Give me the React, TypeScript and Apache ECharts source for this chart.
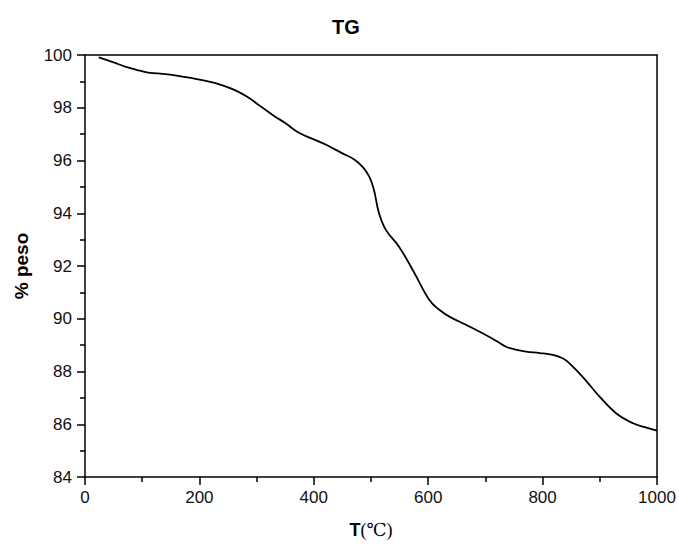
import React, { useEffect, useRef } from "react";
import * as echarts from "echarts";

// Temperature (°C) and remaining mass (%) of the TG curve
const temperature = [
  24, 50, 70, 90, 108, 128, 160, 187, 215, 239, 262, 285, 304, 330, 350, 374, 400,
  425, 450, 470, 485, 497, 505, 514, 526, 549, 573, 602, 620, 637, 665, 695, 720,
  736, 755, 771, 795, 818, 835, 847, 870, 900, 929, 958, 980, 1000,
];
const massPercent = [
  99.91, 99.72, 99.56, 99.44, 99.34, 99.3, 99.22, 99.12, 99.0, 98.86, 98.67, 98.4,
  98.1, 97.7, 97.42, 97.05, 96.8, 96.56, 96.27, 96.05, 95.77, 95.39, 94.9, 94.0,
  93.37, 92.73, 91.85, 90.71, 90.33, 90.08, 89.78, 89.45, 89.15, 88.94, 88.82,
  88.75, 88.7, 88.63, 88.5, 88.31, 87.8, 87.04, 86.41, 86.04, 85.88, 85.76,
];

const xTicks = { min: 0, max: 1000, interval: 200 };
const yTicks = { min: 84, max: 100, interval: 2 };

export default function App() {
  const ref = useRef<HTMLDivElement>(null);

  useEffect(() => {
    if (!ref.current) return;
    const chart = echarts.init(ref.current, null, { renderer: "svg" });
    const labelFont = "'Liberation Sans', Arial, sans-serif";
    const axisLine = { show: true, onZero: false, lineStyle: { color: "#000", width: 1.5 } };
    const majorTick = { show: true, inside: false, length: 8, lineStyle: { color: "#000", width: 1.5 } };
    const minorTick = { show: true, splitNumber: 2, length: 5, lineStyle: { color: "#000", width: 1.5 } };

    chart.setOption({
      animation: false,
      backgroundColor: "#fff",
      title: {
        text: "TG",
        left: 341,
        top: 12,
        textAlign: "center",
        textStyle: { fontFamily: labelFont, fontWeight: "bold", fontSize: 20, color: "#000" },
      },
      grid: { left: 85, right: 22, top: 55, bottom: 66, containLabel: false },
      xAxis: [
        {
          type: "value",
          ...xTicks,
          position: "bottom",
          axisLine,
          axisTick: majorTick,
          minorTick,
          splitLine: { show: false },
          axisLabel: {
            color: "#111",
            fontSize: 17,
            fontFamily: labelFont,
            margin: 12,
            formatter: (v: number) => String(v),
          },
          name: "{b|T}{s|(℃)}",
          nameLocation: "middle",
          nameGap: 44,
          nameTextStyle: {
            rich: {
              b: { fontFamily: labelFont, fontWeight: "bold", fontSize: 18, color: "#000" },
              s: { fontFamily: "'Liberation Serif', 'DejaVu Serif', serif", fontSize: 18, color: "#000" },
            },
          },
        },
        {
          type: "value",
          ...xTicks,
          position: "top",
          axisLine,
          axisTick: { show: false },
          axisLabel: { show: false },
          splitLine: { show: false },
        },
      ],
      yAxis: [
        {
          type: "value",
          ...yTicks,
          position: "left",
          axisLine,
          axisTick: majorTick,
          minorTick,
          splitLine: { show: false },
          axisLabel: { color: "#111", fontSize: 17, fontFamily: labelFont, margin: 13 },
          name: "% peso",
          nameLocation: "middle",
          nameGap: 54,
          nameRotate: 90,
          nameTextStyle: { fontFamily: labelFont, fontWeight: "bold", fontSize: 19, color: "#000" },
        },
        {
          type: "value",
          ...yTicks,
          position: "right",
          axisLine,
          axisTick: { show: false },
          axisLabel: { show: false },
          splitLine: { show: false },
        },
      ],
      series: [
        {
          type: "line",
          data: temperature.map((t, i) => [t, massPercent[i]]),
          smooth: 0.4,
          showSymbol: false,
          lineStyle: { color: "#000", width: 1.8 },
        },
      ],
    });

    return () => chart.dispose();
  }, []);

  return (
    <div
      ref={ref}
      style={{ position: "fixed", left: 0, top: 0, width: 679, height: 544 }}
    />
  );
}
